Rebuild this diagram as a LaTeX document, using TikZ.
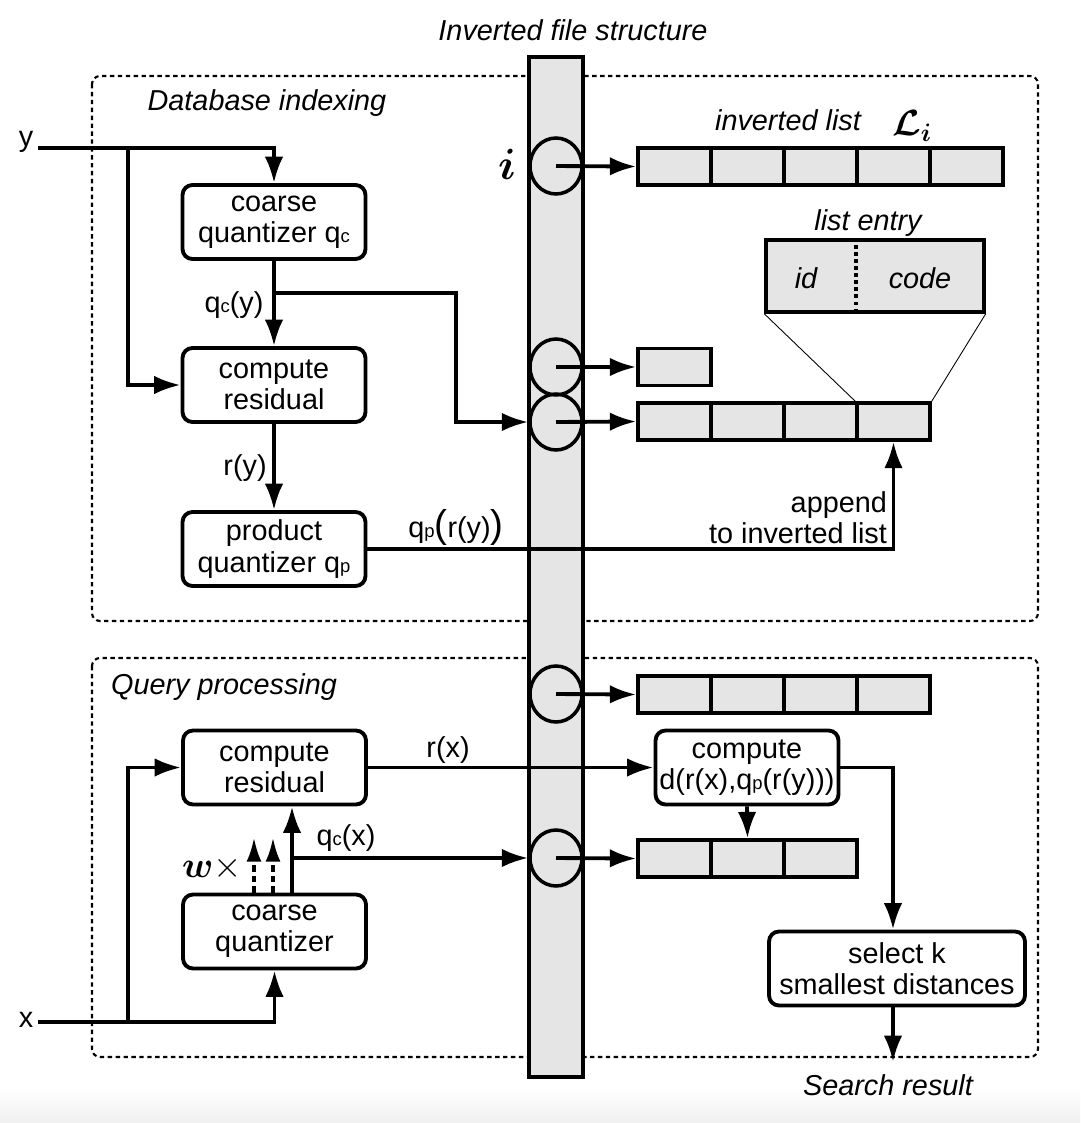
\documentclass[tikz,border=0pt]{standalone}
\usepackage{amsmath}
\usepackage{fontspec}
\setmainfont{Liberation Sans}
\usetikzlibrary{shapes.geometric, arrows.meta, calc}
\newcommand{\fsize}{\fontsize{16.4}{17.8}\selectfont}
\newcommand{\lowc}[1]{{\fontsize{10.5}{10.5}\selectfont #1}}
\newcommand{\bigpar}[1]{{\fontsize{22}{22}\selectfont #1}}

\begin{document}
\begin{tikzpicture}[x=0.02cm, y=-0.02cm, main/.style={draw, rectangle, rounded corners=0.2cm, line width=2.2pt, minimum width=3.66cm, minimum height=1.48cm, align=center, inner sep=0.5pt, font=\fsize}, cell/.style={draw, fill=gray!20, line width=2pt, minimum width=1.46cm, minimum height=0.74cm, inner sep=0pt}, slot/.style={draw, ellipse, line width=2pt, minimum width=1.04cm, minimum height=1.12cm, inner sep=0pt}, column/.style={draw, fill=gray!20, line width=2pt, minimum width=1.08cm, minimum height=20.4cm, inner sep=0pt}, group/.style={draw, line width=1.2pt, dash pattern=on 2.5pt off 2pt, rounded corners=0.16cm}, lbl/.style={inner sep=1pt, font=\fsize}, ilbl/.style={inner sep=1pt, font=\fsize\itshape}, n/.style={-{Latex[length=15pt, width=10.5pt]}, line width=2.2pt}, d/.style={-{Latex[length=14pt, width=8.5pt]}, line width=2.2pt, dash pattern=on 3.5pt off 2.5pt}, sep/.style={line width=2.2pt, dash pattern=on 2pt off 2pt}, thinline/.style={line width=0.5pt}]
        \useasboundingbox (0,0) rectangle (1080,1123);
        \shade[top color=white, bottom color=gray!12] (0,1088) rectangle (1080,1123);
        % groups
        \draw[group] (92,76) rectangle (1038,621);
        \draw[group] (92,658) rectangle (1038,1057);
        \node[ilbl] (dbi) at (267,103) {Database indexing};
        \node[ilbl] (qpr) at (224,687) {Query processing};
        % inverted file
        \node[ilbl] (title) at (573,30) {Inverted file structure};
        \node[column] (col) at (556,567) {};
        \node[slot] (s1) at (556,166) {};
        \node[slot] (s2) at (556,367) {};
        \node[slot] (s3) at (556,422) {};
        \node[slot] (s4) at (556,694) {};
        \node[slot] (s5) at (556,858) {};
        \node (ilab) at (507,164) {\fontsize{32}{32}\selectfont$\boldsymbol{i}$};
        % lists
        \node[cell] (l1a) at (674.5,166.5) {};
        \node[cell] (l1b) at (747.5,166.5) {};
        \node[cell] (l1c) at (820.5,166.5) {};
        \node[cell] (l1d) at (893.5,166.5) {};
        \node[cell] (l1e) at (966.5,166.5) {};
        \node[cell] (l2a) at (674.5,367) {};
        \node[cell] (l3a) at (674.5,421.5) {};
        \node[cell] (l3b) at (747.5,421.5) {};
        \node[cell] (l3c) at (820.5,421.5) {};
        \node[cell] (l3d) at (893.5,421.5) {};
        \node[cell] (l4a) at (674.5,694.5) {};
        \node[cell] (l4b) at (747.5,694.5) {};
        \node[cell] (l4c) at (820.5,694.5) {};
        \node[cell] (l4d) at (893.5,694.5) {};
        \node[cell] (l5a) at (674.5,858.5) {};
        \node[cell] (l5b) at (747.5,858.5) {};
        \node[cell] (l5c) at (820.5,858.5) {};
        \node[ilbl] (il) at (788,120) {inverted list};
        \node (Li) at (912,126) {\fontsize{21}{21}\selectfont$\boldsymbol{\mathcal{L}}_{\boldsymbol{i}}$};
        \draw [n] (s1.center) -- (l1a.west);
        \draw [n] (s2.center) -- (l2a.west);
        \draw [n] (s3.center) -- (l3a.west);
        \draw [n] (s4.center) -- (l4a.west);
        \draw [n] (s5.center) -- (l5a.west);
        % list entry
        \node[cell, minimum width=4.36cm, minimum height=1.44cm] (entry) at (875,276) {};
        \node[ilbl] (le) at (868,223) {list entry};
        \node[ilbl] (id) at (806,278) {id};
        \node[ilbl] (code) at (920,278) {code};
        \draw[sep] ($(entry.north west)!0.413!(entry.north east)$) -- ($(entry.south west)!0.413!(entry.south east)$);
        \draw[thinline] (entry.south west) -- (l3d.north west);
        \draw[thinline] (entry.south east) -- (l3d.north east);
        % database indexing
        \node[main] (cq) at (274,222) {coarse\\quantizer q\lowc{c}};
        \node[main] (cr) at (274,385) {compute\\residual};
        \node[main] (pq) at (274,549) {product\\quantizer q\lowc{p}};
        \node[lbl] (y) at (26,142) {y};
        \coordinate (yin) at (38,148);
        \coordinate (ybr) at (128,148);
        \coordinate (qcy) at (274,293);
        \coordinate (qcb) at (456,293);
        \draw [n] (yin) -| (cq.north);
        \draw [n] (ybr) |- (cr.west);
        \draw [n] (cq.south) -- (cr.north);
        \draw [n] (qcy) -- (qcb) |- (s3.west);
        \draw [n] (cr.south) -- (pq.north);
        \draw [n] (pq.east) -| (l3d.south);
        \node[lbl] (qcyl) at (234,305) {q\lowc{c}(y)};
        \node[lbl] (ryl) at (245,468) {r(y)};
        \node[lbl] (qpl) at (456,527) {q\lowc{p}\bigpar{(}r(y)\bigpar{)}};
        \node[lbl, align=right, anchor=east] (app) at (889,518) {append\\to inverted list};
        % query processing
        \node[main] (qr) at (274.5,767.5) {compute\\residual};
        \node[main] (qq) at (274.5,931.5) {coarse\\quantizer};
        \node[main] (cd) at (747,767.5) {compute\\d(r(x),q\lowc{p}(r(y)))};
        \node[main, minimum width=5.12cm] (sel) at (897,968.5) {select k\\smallest distances};
        \node[lbl] (x) at (26,1020) {x};
        \coordinate (xin) at (38,1022);
        \coordinate (xbr) at (128,1022);
        \coordinate (qcx) at (292,858);
        \coordinate (w1) at (254,837);
        \coordinate (w2) at (273,837);
        \coordinate (sr) at (893,1062);
        \draw [n] (xin) -| (qq.south);
        \draw [n] (xbr) |- (qr.west);
        \draw [n] (qq.north -| qcx) -- (qr.south -| qcx);
        \draw [n] (qcx) -- (s5.west);
        \draw [d] (qq.north -| w1) -- (w1);
        \draw [d] (qq.north -| w2) -- (w2);
        \draw [n] (qr.east) -- (cd.west);
        \draw [n] (cd.south) -- (l5b.north);
        \draw [n] (cd.east) -| (sel.north -| sr);
        \draw [n] (sel.south -| sr) -- (sr);
        \node (wl) at (212,868) {\fontsize{21}{21}\selectfont$\boldsymbol{w}\times$};
        \node[lbl] (qcxl) at (346,838) {q\lowc{c}(x)};
        \node[lbl] (rxl) at (448,750) {r(x)};
        \node[ilbl] (res) at (888,1085) {Search result};
    \end{tikzpicture}
\end{document}
